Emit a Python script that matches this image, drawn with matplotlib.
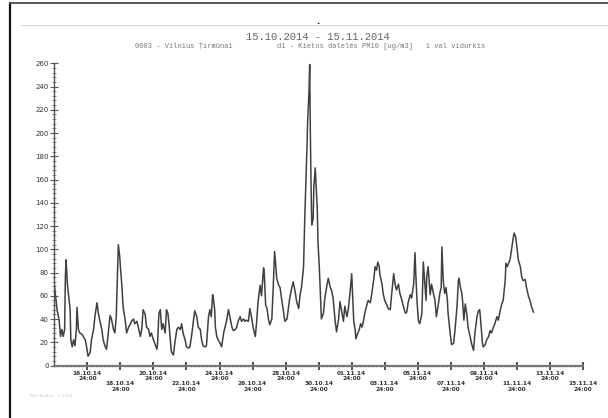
import matplotlib
matplotlib.use("Agg")
import matplotlib.pyplot as plt
from matplotlib.lines import Line2D
from matplotlib.ticker import MultipleLocator, FixedLocator

# hourly PM10 readings (hours since 15.10.2014 00:00)
hours = [0, 2, 4, 7, 9, 11, 13, 15, 16, 17, 18, 19, 21, 23, 24, 26, 28, 30, 32, 33,
         35, 37, 40, 42, 45, 47, 49, 52, 54, 57, 59, 62, 64, 66, 69, 71, 74, 76, 79, 81,
         83, 86, 88, 90, 92, 93, 95, 96, 98, 100, 103, 105, 108, 110, 112, 115, 117, 120, 122, 125,
         127, 129, 132, 134, 137, 139,
         141, 144, 146, 149, 150, 152, 154, 156, 158, 161, 163, 165, 167, 169, 170, 173, 175, 178, 180, 183,
         185, 187, 190, 192, 195, 197, 200, 202, 204, 207, 209, 212, 214, 216, 219, 221, 224, 226, 228, 230,
         231, 233, 234, 236, 238, 241, 243, 246, 248, 250, 253, 255, 258, 260, 263, 265, 267, 270, 272, 275,
         277,
         279, 282, 284, 287, 289, 292, 294, 296, 299, 301, 304, 305, 307, 309, 311, 313, 316, 318, 320, 322,
         323, 326, 328, 330, 333, 335, 338, 340, 342, 345, 347, 350, 352, 355, 357, 359, 362, 364, 367, 368,
         370, 371, 372, 373, 374, 376, 377, 379, 380, 382, 383, 385, 387, 388, 391, 393, 396, 398, 401, 403,
         405, 408, 410, 413, 415,
         417, 420, 422, 425, 427, 430, 432, 433, 435, 437, 438, 441, 443, 445, 447, 449, 451, 454, 456, 459,
         461, 464, 466, 468, 470, 472, 473, 476, 478, 480, 483, 485, 488, 490, 493, 495, 497, 500, 502, 505,
         507, 510, 512, 514, 517, 519, 522, 524, 525, 527, 529, 531, 534, 536, 538, 540, 541, 543, 546, 548,
         551, 553,
         555, 558, 560, 562, 563, 565, 567, 569, 571, 572, 575, 577, 580, 582, 585, 587, 588, 590, 592, 593,
         595, 597, 599, 601, 604, 606, 609, 611, 614, 616, 618, 620, 622, 623, 626, 628, 631, 633, 635, 638,
         640, 643, 645, 648, 650, 652, 655, 656, 658, 660, 662, 664, 667, 668, 670, 672, 674, 677, 679, 681,
         684, 686, 689, 691, 693, 696]
pm10 = [70, 59, 48, 39, 25, 31, 25, 31, 74, 91, 82, 70, 59, 48, 22, 16, 22, 17, 31, 50,
        31, 28, 27, 25, 22, 16, 8, 11, 22, 31, 42, 54, 45, 39, 31, 22, 16, 14, 31, 43,
        40, 31, 28, 42, 82, 104, 94, 85, 70, 50, 39, 28, 33, 35, 38, 40, 36, 38, 33, 25,
        31, 48, 44, 33, 31, 25,
        28, 22, 19, 14, 19, 45, 48, 31, 36, 28, 48, 45, 33, 19, 12, 9, 19, 31, 33, 31,
        36, 28, 22, 16, 15, 16, 28, 38, 47, 42, 33, 31, 22, 17, 16, 17, 42, 48, 42, 61,
        58, 48, 33, 25, 22, 19, 16, 28, 33, 38, 48, 42, 33, 30, 31, 33, 38, 42, 38, 40,
        38,
        39, 38, 49, 40, 32, 25, 38, 55, 69, 60, 84, 80, 52, 49, 40, 35, 40, 67, 98, 84,
        75, 69, 67, 58, 46, 38, 40, 49, 58, 67, 72, 63, 55, 49, 61, 67, 84, 130, 187, 210,
        236, 259, 198, 153, 121, 126, 153, 170, 158, 135, 107, 84, 55, 40, 45, 58, 69, 75, 67, 64,
        58, 38, 29, 40, 55,
        48, 38, 51, 42, 48, 65, 79, 65, 38, 31, 23, 28, 31, 36, 33, 38, 45, 52, 56, 54,
        61, 74, 85, 82, 89, 85, 78, 70, 61, 56, 52, 49, 48, 61, 79, 70, 65, 70, 62, 56,
        51, 45, 46, 54, 61, 58, 70, 97, 80, 54, 38, 36, 45, 89, 73, 56, 76, 85, 61, 70,
        61, 56,
        42, 53, 62, 67, 102, 73, 62, 67, 56, 45, 28, 18, 19, 30, 51, 73, 75, 67, 62, 56,
        39, 53, 45, 33, 25, 19, 13, 28, 42, 47, 48, 33, 19, 16, 18, 22, 25, 30, 28, 33,
        36, 42, 39, 48, 53, 56, 73, 88, 85, 88, 91, 99, 111, 114, 111, 102, 91, 85, 76, 73,
        74, 67, 59, 56, 51, 46]

tick_hours = list(range(48, 769, 48))
tick_dates = ["16.10.14", "18.10.14", "20.10.14", "22.10.14", "24.10.14", "26.10.14",
              "28.10.14", "30.10.14", "01.11.14", "03.11.14", "05.11.14", "07.11.14",
              "09.11.14", "11.11.14", "13.11.14", "15.11.14"]

title = "15.10.2014 - 15.11.2014"
station = "0003 - Vilnius Ţirmūnai"
pollutant = "d1 - Kietos dalelės PM10 [ug/m3]   1 val vidurkis"

fig = plt.figure(figsize=(6.08, 4.18), dpi=100)
fig.patch.set_facecolor("white")

# page frame and header rule
fig.add_artist(Line2D([10/608, 10/608], [0, 1 - 3/418], color="#111111", lw=1.6))
fig.add_artist(Line2D([10/608, 1], [1 - 3/418, 1 - 3/418], color="#555555", lw=1.4))
fig.add_artist(Line2D([21/608, 1], [1 - 25/418, 1 - 25/418], color="#d8d8d8", lw=0.8))
fig.text(318/608, 1 - 26/418, ".", ha="center", va="bottom", fontsize=6, color="#222222",
         fontweight="bold")

fig.text(318/608, 1 - 37/418, title, ha="center", va="center", fontsize=7.6,
         family="Liberation Mono", color="#666666")
fig.text(184/608, 1 - 46/418, station, ha="center", va="center", fontsize=5,
         family="Liberation Mono", color="#777777")
fig.text(277/608, 1 - 46/418, pollutant, ha="left", va="center", fontsize=5,
         family="Liberation Mono", color="#777777")
fig.text(30/608, 1 - 396/418, "RST Analize - 1 2014", ha="left", va="center", fontsize=3,
         color="#c8c8c8")

ax = fig.add_axes([54.3/608, 1 - 365.5/418, 528.7/608, 302.2/418])
ax.plot(hours, pm10, color="#404040", lw=1.1)
ax.set_xlim(0, 768)
ax.set_ylim(0, 260)

for side in ["top", "right"]:
    ax.spines[side].set_visible(False)
ax.spines["left"].set_color("#555555")
ax.spines["left"].set_linewidth(1.0)
ax.spines["bottom"].set_color("#777777")
ax.spines["bottom"].set_linewidth(1.6)

ax.yaxis.set_major_locator(MultipleLocator(20))
ax.yaxis.set_minor_locator(MultipleLocator(4))
ax.xaxis.set_major_locator(FixedLocator(tick_hours))
ax.xaxis.set_minor_locator(MultipleLocator(6))

labels = []
for i, d in enumerate(tick_dates):
    if i % 2 == 0:
        labels.append(d + "\n24:00")
    else:
        labels.append("\n\n" + d + "\n24:00")
ax.set_xticklabels(labels, fontsize=4.2, fontweight="bold", color="#333333", linespacing=1.05,
                   va="top")

ax.tick_params(axis="y", which="major", direction="inout", length=6, width=0.8,
               color="#555555", labelsize=5, labelcolor="#333333", pad=1)
ax.tick_params(axis="y", which="minor", direction="inout", length=2.5, width=0.6,
               color="#777777")
ax.tick_params(axis="x", which="major", direction="inout", length=6, width=1.2,
               color="#333333", pad=1)
ax.tick_params(axis="x", which="minor", direction="inout", length=2, width=0.5,
               color="#888888")

fig.savefig("out.png", dpi=100)
